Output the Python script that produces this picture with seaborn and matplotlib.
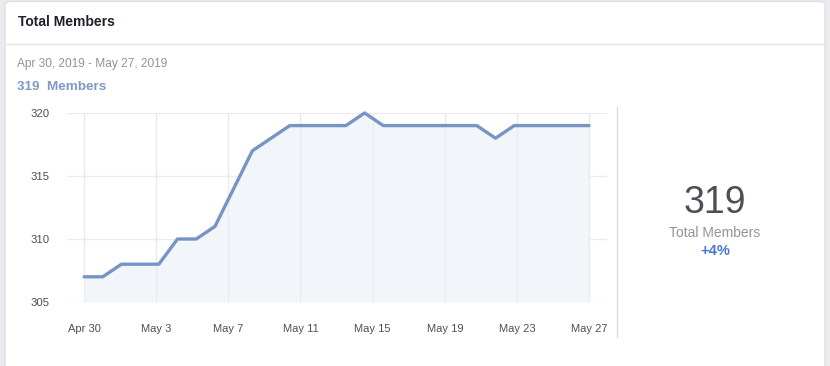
import matplotlib
matplotlib.use('Agg')
import matplotlib.pyplot as plt
from matplotlib.patches import FancyBboxPatch
import numpy as np
import pandas as pd
import seaborn as sns

# data (one point per day, Apr 30 .. May 27)
dates = pd.date_range('2019-04-30', '2019-05-27', freq='D')
members = [307, 307, 308, 308, 308, 310, 310, 311, 314, 317,
           318, 319, 319, 319, 319, 320, 319, 319, 319, 319,
           319, 319, 318, 319, 319, 319, 319, 319]
tick_labels = ['Apr 30', 'May 3', 'May 7', 'May 11', 'May 15',
               'May 19', 'May 23', 'May 27']
y_ticks = [305, 310, 315, 320]

total = 319
change = '+4%'

W, H = 830, 366
LINE = '#7694c4'
FILL = '#f2f6fb'
GRID = '#e9ebee'
GREY = '#90949c'
DARK = '#4b4f56'

sns.set_style('white')
plt.rcParams['font.family'] = ['Liberation Sans', 'DejaVu Sans']

df = pd.DataFrame({'date': dates, 'members': members})
df['day'] = (df['date'] - df['date'].iloc[0]).dt.days


def px(x0, y0, x1, y1):
    # pixel box (top-left origin) -> figure fraction rect
    return [x0 / W, 1 - y1 / H, (x1 - x0) / W, (y1 - y0) / H]


fig = plt.figure(figsize=(W / 100, H / 100), dpi=100)
fig.patch.set_facecolor('#e9ebee')

# white card behind everything
card = FancyBboxPatch((5 / W, -0.1), 820 / W, 1 + 0.1 - 1.5 / H,
                      boxstyle='round,pad=0,rounding_size=0.008',
                      transform=fig.transFigure, facecolor='white',
                      edgecolor='#dddfe2', linewidth=1, zorder=-10)
fig.patches.append(card)
fig.add_artist(plt.Line2D([5.5 / W, 824.5 / W], [1 - 44 / H, 1 - 44 / H],
                          transform=fig.transFigure, color='#e5e5e5', lw=1,
                          zorder=-5))
fig.add_artist(plt.Line2D([617 / W, 617 / W], [1 - 107 / H, 1 - 337 / H],
                          transform=fig.transFigure, color='#dddfe2', lw=1,
                          zorder=-5))

fig.text(18 / W, 1 - 22.5 / H, 'Total Members', fontsize=10, fontweight='bold',
         color='#1d2129', va='center')
fig.text(17 / W, 1 - 64.5 / H, 'Apr 30, 2019 - May 27, 2019', fontsize=8.6,
         color=GREY, va='center')
fig.text(17 / W, 1 - 86.5 / H, f'{total}  Members', fontsize=9.7,
         fontweight='bold', color='#7f98c4', va='center')

ax = fig.add_axes(px(67, 113, 607, 302))
ax.set_facecolor('none')

ax.fill_between(df['day'], members, 305, color=FILL, zorder=1, linewidth=0)
sns.lineplot(data=df, x='day', y='members', ax=ax, color=LINE,
             linewidth=2.4, zorder=3, clip_on=False)

# the chart spaces its 8 date ticks evenly across the range
tick_pos = np.linspace(df['day'].iloc[0], df['day'].iloc[-1], len(tick_labels))
for d in tick_pos:
    ax.plot([d, d], [305, 320], color=GRID, lw=1, zorder=2)
for y in y_ticks:
    ax.axhline(y, color=GRID, lw=1, zorder=0)

ax.set_xlim(-0.91, 27.96)
ax.set_ylim(305, 320)
ax.set_xticks(tick_pos)
ax.set_xticklabels(tick_labels)
ax.set_yticks(y_ticks)
ax.tick_params(axis='x', length=0, pad=15.5, labelsize=8, labelcolor=DARK)
ax.tick_params(axis='y', length=0, pad=12.5, labelsize=8.2, labelcolor=DARK)
ax.set_xlabel('')
ax.set_ylabel('')
for s in ax.spines.values():
    s.set_visible(False)

fig.text(715 / W, 1 - 203 / H, str(total), fontsize=27, color=DARK,
         ha='center', va='center')
fig.text(715 / W, 1 - 233 / H, 'Total Members', fontsize=10, color=GREY,
         ha='center', va='center')
fig.text(715 / W, 1 - 251 / H, change, fontsize=10.5, fontweight='bold',
         color='#4a76d4', ha='center', va='center')

fig.savefig('out.png', dpi=100)
